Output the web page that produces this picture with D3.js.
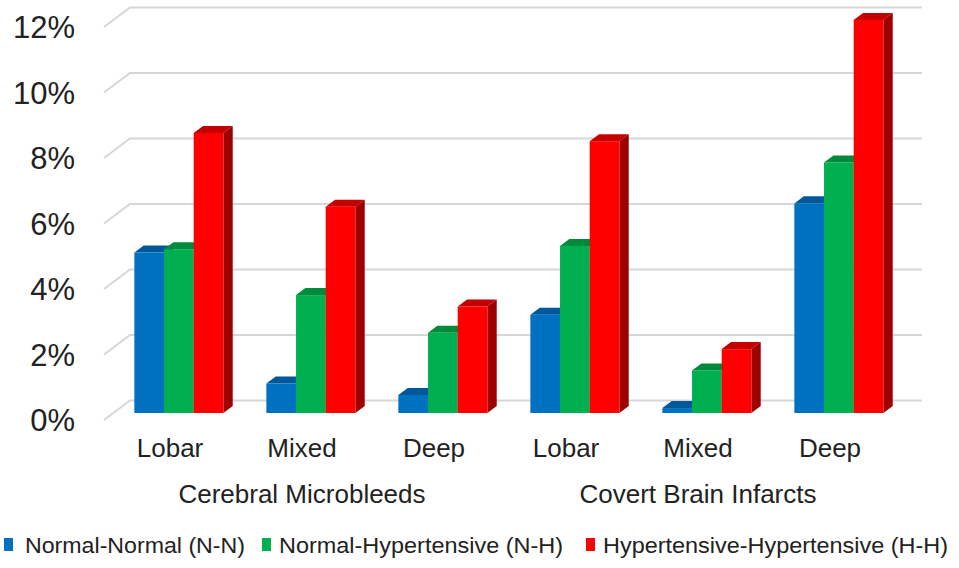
<!DOCTYPE html>
<html lang="en">
<head>
<meta charset="utf-8">
<title>Microbleeds and infarcts by blood pressure trajectory</title>
<script src="https://cdnjs.cloudflare.com/ajax/libs/d3/7.8.5/d3.min.js"></script>
<style>
  body { margin: 0; background: #fff; }
  text { font-family: "Liberation Sans", Arial, sans-serif; fill: #222; }
</style>
</head>
<body>
<div class="graph"></div>
<script>
// chart data
const categories = ["Lobar", "Mixed", "Deep", "Lobar", "Mixed", "Deep"];
const groups = ["Cerebral Microbleeds", "Covert Brain Infarcts"];
const seriesNames = ["Normal-Normal (N-N)", "Normal-Hypertensive (N-H)", "Hypertensive-Hypertensive (H-H)"];
const normalNormal = [4.9, 0.9, 0.55, 3.0, 0.15, 6.4];
const normalHyper = [5.0, 3.6, 2.45, 5.1, 1.3, 7.65];
const hyperHyper = [8.55, 6.3, 3.25, 8.3, 1.95, 12.0];
const yTicks = [0, 2, 4, 6, 8, 10, 12];

const w = 959, h = 568;
const depthX = 26, depthY = 19.5;   // full floor depth offset
const barFront = 0.36, barBack = 0.72; // bar position inside the depth

const colors = [
  {front: "#0070C0", top: "#00589A", side: "#004C84"},
  {front: "#00B050", top: "#008A3C", side: "#007A34"},
  {front: "#FF0000", top: "#C40000", side: "#9E0000"}
];

const seriesValues = [normalNormal, normalHyper, hyperHyper];

const svg = d3.select(".graph").append("svg")
  .attr("width", w).attr("height", h);

const x0 = d3.scaleBand()
  .domain(d3.range(categories.length))
  .range([104, 896]);

const x1 = d3.scaleBand()
  .domain(d3.range(seriesNames.length))
  .range([21, x0.bandwidth() - 22]);

const yScale = d3.scaleLinear().domain([0, 12]).range([420, 27]);

// gridlines (left wall diagonal + back wall)
const grid = svg.append("g").attr("class", "grid");
yTicks.forEach(v => {
  const y = yScale(v);
  grid.append("path")
    .attr("d", "M104," + y + "L" + (104 + depthX) + "," + (y - depthY) + "L922," + (y - depthY))
    .attr("fill", "none")
    .attr("stroke", "#d6d6d6")
    .attr("stroke-width", 2);
});

// y labels
svg.append("g").selectAll("text")
  .data(yTicks)
  .enter().append("text")
  .attr("x", 75)
  .attr("y", d => yScale(d) + 11)
  .attr("text-anchor", "end")
  .style("font-size", "31px")
  .text(d => d + "%");

// bars drawn as front, top and side faces
const fx = depthX * barFront, fy = depthY * barFront;
const bx = depthX * barBack, by = depthY * barBack;
const bars = svg.append("g").attr("class", "bars");
categories.forEach((c, i) => {
  seriesValues.forEach((vals, s) => {
    const left = x0(i) + x1(s) + fx;
    const right = left + x1.bandwidth();
    const bottom = yScale(0) - fy;
    const top = yScale(vals[i]) - fy;
    const ox = bx - fx, oy = by - fy;
    const g = bars.append("g");
    g.append("path")
      .attr("d", `M${left},${top}L${left + ox},${top - oy}L${right + ox},${top - oy}L${right},${top}Z`)
      .attr("fill", colors[s].top);
    g.append("path")
      .attr("d", `M${right},${top}L${right + ox},${top - oy}L${right + ox},${bottom - oy}L${right},${bottom}Z`)
      .attr("fill", colors[s].side);
    g.append("rect")
      .attr("x", left).attr("y", top)
      .attr("width", x1.bandwidth())
      .attr("height", bottom - top)
      .attr("fill", colors[s].front);
  });
});

// category labels
svg.append("g").selectAll("text")
  .data(categories)
  .enter().append("text")
  .attr("x", (d, i) => x0(i) + x0.bandwidth() / 2)
  .attr("y", 457)
  .attr("text-anchor", "middle")
  .style("font-size", "26px")
  .text(d => d);

// group labels
svg.append("g").selectAll("text")
  .data(groups)
  .enter().append("text")
  .attr("x", (d, i) => (x0(i * 3) + x0(i * 3 + 2) + x0.bandwidth()) / 2)
  .attr("y", 503)
  .attr("text-anchor", "middle")
  .style("font-size", "26px")
  .text(d => d);

// legend
const legendPos = [
  {sq: 4, tx: 25, tw: 220},
  {sq: 262, tx: 279, tw: 284},
  {sq: 586, tx: 603, tw: 345}
];
const legend = svg.append("g").attr("id", "legend");
seriesNames.forEach((name, s) => {
  legend.append("rect")
    .attr("x", legendPos[s].sq).attr("y", 538)
    .attr("width", 9).attr("height", 13)
    .attr("fill", colors[s].front);
  legend.append("text")
    .attr("x", legendPos[s].tx).attr("y", 553)
    .attr("textLength", legendPos[s].tw)
    .attr("lengthAdjust", "spacingAndGlyphs")
    .style("font-size", "22px")
    .text(name);
});
</script>
</body>
</html>
